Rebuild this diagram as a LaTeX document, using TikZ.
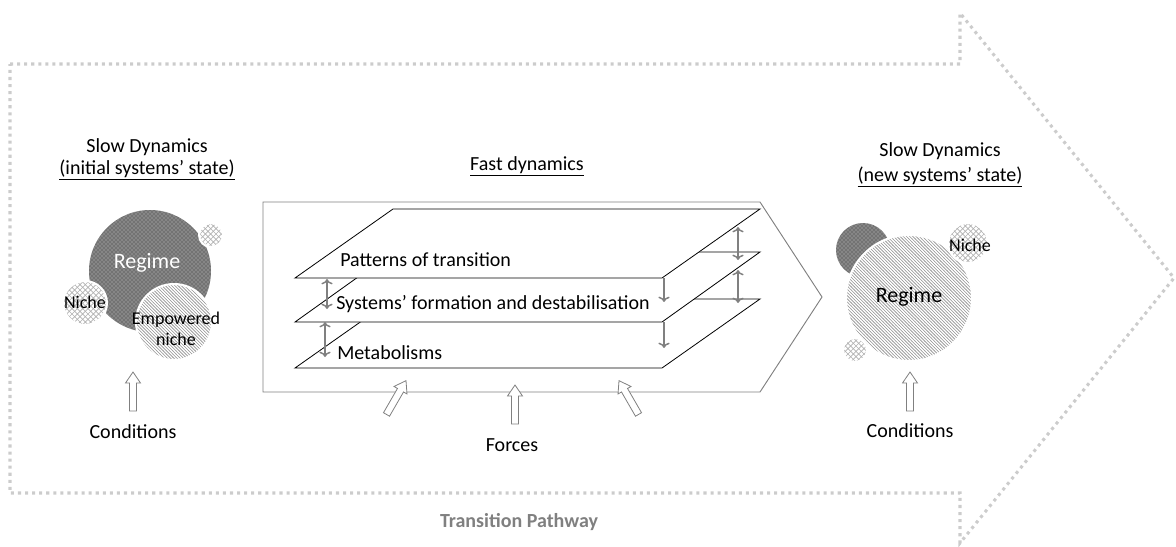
\documentclass[tikz,border=0pt]{standalone}
\usepackage{fontspec}
\setmainfont{Carlito}
\usetikzlibrary{arrows.meta,patterns}

\pgfdeclarepatternformonly{wide cross}{\pgfqpoint{-1pt}{-1pt}}{\pgfqpoint{5pt}{5pt}}{\pgfqpoint{4pt}{4pt}}{
  \pgfsetlinewidth{0.5pt}
  \pgfpathmoveto{\pgfqpoint{-0.1pt}{-0.1pt}}\pgfpathlineto{\pgfqpoint{4.1pt}{4.1pt}}
  \pgfpathmoveto{\pgfqpoint{-0.1pt}{4.1pt}}\pgfpathlineto{\pgfqpoint{4.1pt}{-0.1pt}}
  \pgfusepath{stroke}}
\pgfdeclarepatternformonly{dense hatch}{\pgfqpoint{-1pt}{-1pt}}{\pgfqpoint{3.5pt}{3.5pt}}{\pgfqpoint{2.4pt}{2.4pt}}{
  \pgfsetlinewidth{0.45pt}
  \pgfpathmoveto{\pgfqpoint{-0.1pt}{2.5pt}}\pgfpathlineto{\pgfqpoint{2.5pt}{-0.1pt}}
  \pgfusepath{stroke}}

\tikzset{pics/push/.style={code={
  \draw[gray,fill=white,line width=0.6pt] (-3.5,19) -- (-3.5,-9) -- (-7.5,-9) -- (0,-20)
    -- (7.5,-9) -- (3.5,-9) -- (3.5,19) -- cycle;}}}

\begin{document}
\begin{tikzpicture}[x=0.75pt,y=-0.75pt,
  lbl/.style={font=\fontsize{15}{18}\selectfont,inner sep=0pt},
  small lbl/.style={font=\fontsize{13.5}{16}\selectfont,inner sep=0pt},
  big lbl/.style={font=\fontsize{16.5}{20}\selectfont,inner sep=0pt},
  pathway/.style={draw=gray!40,line width=2.3pt,dash pattern=on 2.3pt off 3pt},
  layer/.style={draw=black,fill=white,line width=0.6pt},
  lay arrow/.style={draw=gray,line width=1.1pt,-{Stealth[length=4.5pt,width=4.5pt]}},
  regime dots/.style={circle,inner sep=0pt,preaction={fill=black!55},pattern=crosshatch dots,
    pattern color=gray!45},
  hatch/.style={circle,inner sep=0pt,draw=white,line width=1.5pt,preaction={fill=white},
    pattern=dense hatch,pattern color=gray!85},
  cross/.style={circle,inner sep=0pt,draw=white,line width=1.5pt,preaction={fill=white},
    pattern=wide cross,pattern color=gray!60}]

  \useasboundingbox (0,0) rectangle (1176,546);

  % transition pathway arrow
  \draw[pathway] (10,64) -- (960,64) -- (960,13) -- (1174,278) -- (960,543)
    -- (960,493) -- (10,493) -- cycle;
  \node[lbl,font=\fontsize{15}{18}\selectfont\bfseries,text=gray] (tp) at (519,522) {Transition Pathway};

  % initial state
  \node[lbl,anchor=base] (slowL) at (147,152) {Slow Dynamics};
  \node[lbl,anchor=base] (stateL) at (147,174) {\underline{(initial systems’ state)}};
  \node[regime dots,minimum size=91.5pt] (regL) at (150,271) {};
  \node[cross,minimum size=18pt] (nicheA) at (211,235) {};
  \node[cross,minimum size=33pt] (nicheL) at (85,303) {};
  \node[hatch,minimum size=57pt] (empL) at (174,322) {};
  \node[big lbl,text=white] (regtxtL) at (147,263) {Regime};
  \node[small lbl] (nichetxtL) at (85,302) {Niche};
  \node[small lbl,align=center] (emptxt) at (176,329) {Empowered\\niche};
  \pic (condL) at (133,392) {push};
  \node[lbl] (condtxtL) at (133,432) {Conditions};

  % fast dynamics
  \node[lbl,anchor=base] (fast) at (527,170) {\underline{Fast dynamics}};
  \draw[gray,line width=0.7pt] (263,202) -- (760,202) -- (822,297) -- (760,392) -- (263,392) -- cycle;
  \draw[layer] (295,368) -- (662,368) -- (760,299) -- (393,299) -- cycle;
  \draw[layer] (295,322) -- (662,322) -- (760,252) -- (393,252) -- cycle;
  \draw[layer] (295,278) -- (662,278) -- (760,209) -- (393,209) -- cycle;
  \node[lbl,anchor=base west] (pat) at (340,266) {Patterns of transition};
  \node[lbl,anchor=base west] (sys) at (336,309) {Systems’ formation and destabilisation};
  \node[lbl,anchor=base west] (met) at (337,359) {Metabolisms};
  \foreach \n/\x/\ya/\yb/\tip in {1/327/279/309/<->,2/325/322/357/<->,3/664/278/302/->,
      4/664/322/348/->,5/738/227/260/<->,6/738/270/303/<->}{
    \coordinate (s\n) at (\x,\ya);
    \coordinate (e\n) at (\x,\yb);
    \draw[lay arrow,\tip] (s\n) -- (e\n);
  }
  \pic[rotate=-30] (forceA) at (396,398) {push};
  \pic (forceB) at (515,405) {push};
  \pic[rotate=30] (forceC) at (629,398) {push};
  \node[lbl] (forces) at (512,445) {Forces};

  % new state
  \node[lbl,anchor=base] (slowR) at (940,156) {Slow Dynamics};
  \node[lbl,anchor=base] (stateR) at (940,181) {\underline{(new systems’ state)}};
  \node[regime dots,minimum size=40.5pt] (oldR) at (863,250) {};
  \node[hatch,minimum size=94.5pt] (regR) at (909,298) {};
  \node[cross,minimum size=30pt] (nicheR) at (968,243) {};
  \node[cross,minimum size=18pt] (nicheB) at (855,350) {};
  \node[big lbl] (regtxtR) at (909,297) {Regime};
  \node[small lbl] (nichetxtR) at (970,245) {Niche};
  \pic (condR) at (910,392) {push};
  \node[lbl] (condtxtR) at (910,431) {Conditions};
\end{tikzpicture}
\end{document}
